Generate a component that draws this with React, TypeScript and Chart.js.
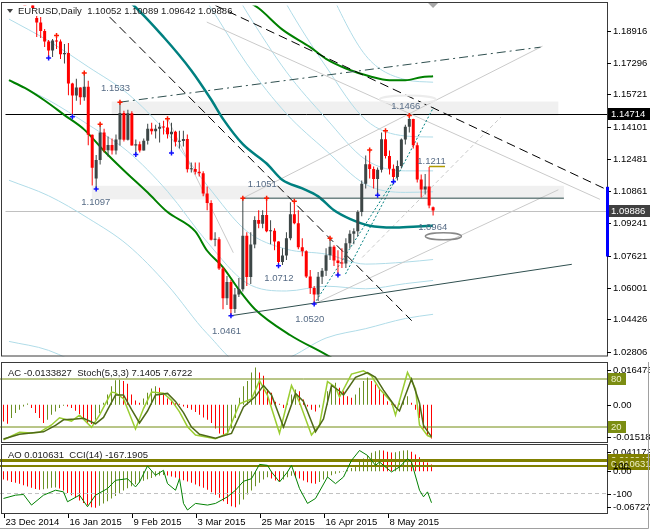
import React, { useEffect, useRef } from 'react';
import { Chart, registerables } from 'chart.js';

Chart.register(...registerables);

// EURUSD daily, bar 0 = 23 Dec 2014, bar 107 = 25 May 2015
const opens = [
  1.2230, 1.2174, 1.2195, 1.2187, 1.2160, 1.2157, 1.2100, 1.1955, 1.1933, 1.1890,
  1.1838, 1.1792, 1.1843, 1.1838, 1.1774, 1.1780, 1.1627, 1.1566, 1.1607, 1.1557,
  1.1610, 1.1369, 1.1150, 1.1243, 1.1381, 1.1291, 1.1318, 1.1290, 1.1345, 1.1478,
  1.1344, 1.1477, 1.1315, 1.1322, 1.1290, 1.1339, 1.1399, 1.1387, 1.1400, 1.1409,
  1.1406, 1.1372, 1.1384, 1.1334, 1.1338, 1.1348, 1.1196, 1.1197, 1.1184, 1.1176,
  1.1074, 1.1027, 1.0842, 1.0845, 1.0698, 1.0549, 1.0630, 1.0495, 1.0567, 1.0594,
  1.0862, 1.0655, 1.0818, 1.0941, 1.0923, 1.0966, 1.0885, 1.0888, 1.0833, 1.0731,
  1.0763, 1.0850, 1.0970, 1.0925, 1.0804, 1.0784, 1.0658, 1.0600, 1.0568, 1.0657,
  1.0687, 1.0765, 1.0807, 1.0738, 1.0725, 1.0723, 1.0825, 1.0872, 1.0885, 1.0982,
  1.1123, 1.1221, 1.1197, 1.1147, 1.1194, 1.1347, 1.1263, 1.1199, 1.1157, 1.1212,
  1.1345, 1.1409, 1.1448, 1.1316, 1.1145, 1.1095, 1.1110, 1.10052,
];
const highs = [
  1.2245, 1.2220, 1.2230, 1.2220, 1.2190, 1.2170, 1.2110, 1.1966, 1.1960, 1.1900,
  1.1845, 1.1850, 1.1867, 1.1847, 1.1825, 1.1830, 1.1630, 1.1650, 1.1608, 1.1679,
  1.1640, 1.1370, 1.1268, 1.1422, 1.1400, 1.1360, 1.1350, 1.1370, 1.1533, 1.1490,
  1.1495, 1.1487, 1.1345, 1.1335, 1.1350, 1.1425, 1.1430, 1.1420, 1.1430, 1.1440,
  1.1450, 1.1430, 1.1390, 1.1390, 1.1390, 1.1370, 1.1230, 1.1230, 1.1230, 1.1186,
  1.1110, 1.1040, 1.0880, 1.0855, 1.0705, 1.0660, 1.0640, 1.0600, 1.0650, 1.1051,
  1.0880, 1.0880, 1.0960, 1.0990, 1.0990, 1.1051, 1.0940, 1.0900, 1.0835, 1.0800,
  1.0880, 1.1030, 1.1036, 1.0990, 1.0850, 1.0790, 1.0690, 1.0610, 1.0680, 1.0700,
  1.0800, 1.0850, 1.0815, 1.0790, 1.0800, 1.0850, 1.0890, 1.0900, 1.0990, 1.1140,
  1.1265, 1.1293, 1.1210, 1.1205, 1.1380, 1.1390, 1.1290, 1.1220, 1.1240, 1.1350,
  1.1420, 1.1466, 1.1450, 1.1330, 1.1170, 1.1172, 1.1207, 1.10089,
];
const lows = [
  1.2165, 1.2165, 1.2180, 1.2155, 1.2140, 1.2100, 1.2000, 1.1860, 1.1855, 1.1810,
  1.1755, 1.1760, 1.1800, 1.1750, 1.1727, 1.1567, 1.1460, 1.1540, 1.1520, 1.1540,
  1.1316, 1.1114, 1.1097, 1.1220, 1.1280, 1.1260, 1.1270, 1.1270, 1.1315, 1.1335,
  1.1340, 1.1315, 1.1270, 1.1280, 1.1290, 1.1320, 1.1370, 1.1350, 1.1330, 1.1370,
  1.1350, 1.1278, 1.1310, 1.1300, 1.1310, 1.1180, 1.1180, 1.1170, 1.1160, 1.1060,
  1.0990, 1.0838, 1.0810, 1.0690, 1.0494, 1.0515, 1.0461, 1.0475, 1.0555, 1.0583,
  1.0610, 1.0620, 1.0800, 1.0900, 1.0900, 1.0880, 1.0820, 1.0790, 1.0712, 1.0715,
  1.0740, 1.0840, 1.0920, 1.0795, 1.0760, 1.0650, 1.0570, 1.0520, 1.0535, 1.0620,
  1.0660, 1.0740, 1.0710, 1.0665, 1.0700, 1.0700, 1.0800, 1.0820, 1.0860, 1.0960,
  1.1100, 1.1150, 1.1100, 1.1066, 1.1180, 1.1250, 1.1170, 1.1134, 1.1140, 1.1200,
  1.1320, 1.1380, 1.1300, 1.1130, 1.1054, 1.1070, 1.1000, 1.09642,
];
const closes = [
  1.2174, 1.2195, 1.2187, 1.2160, 1.2157, 1.2100, 1.2005, 1.1933, 1.1890, 1.1838,
  1.1792, 1.1843, 1.1838, 1.1774, 1.1780, 1.1627, 1.1566, 1.1607, 1.1557, 1.1610,
  1.1369, 1.1204, 1.1243, 1.1381, 1.1291, 1.1318, 1.1290, 1.1345, 1.1478, 1.1344,
  1.1477, 1.1315, 1.1322, 1.1290, 1.1339, 1.1399, 1.1387, 1.1400, 1.1409, 1.1406,
  1.1372, 1.1384, 1.1334, 1.1338, 1.1348, 1.1196, 1.1197, 1.1184, 1.1176, 1.1074,
  1.1027, 1.0842, 1.0845, 1.0698, 1.0549, 1.0630, 1.0495, 1.0567, 1.0594, 1.0862,
  1.0655, 1.0818, 1.0941, 1.0923, 1.0966, 1.0885, 1.0888, 1.0833, 1.0731, 1.0763,
  1.0850, 1.0970, 1.0925, 1.0804, 1.0784, 1.0658, 1.0600, 1.0568, 1.0657, 1.0687,
  1.0765, 1.0807, 1.0738, 1.0725, 1.0723, 1.0825, 1.0872, 1.0885, 1.0982, 1.1123,
  1.1221, 1.1197, 1.1147, 1.1194, 1.1347, 1.1263, 1.1199, 1.1157, 1.1212, 1.1345,
  1.1409, 1.1448, 1.1316, 1.1145, 1.1095, 1.1110, 1.1014, 1.09886,
];

const dateTickBars = [0, 16, 32, 48, 64, 80, 96];
const dateTickLabels = ['23 Dec 2014', '16 Jan 2015', '9 Feb 2015', '3 Mar 2015', '25 Mar 2015', '16 Apr 2015', '8 May 2015'];
const priceTicks = [1.18916, 1.17296, 1.15721, 1.14101, 1.12481, 1.10861, 1.09241, 1.07621, 1.06001, 1.04426, 1.02806];

// fractal bars
const fractalHighBars = [12, 19, 23, 28, 40, 59, 65, 72, 81, 91, 95, 101];
const fractalLowBars = [10, 16, 22, 32, 41, 56, 68, 77, 83, 93, 97];

// moving average (teal) and its bands
const maBars = [20, 30, 39, 46, 51, 54, 59, 65, 69, 74, 78, 82, 86, 91, 97, 102, 107];
const maValues = [1.2180, 1.2045, 1.1860, 1.1692, 1.1546, 1.1449, 1.1322, 1.1225, 1.1142, 1.1100, 1.1060, 1.0990, 1.0947, 1.0913, 1.0904, 1.0908, 1.0913];
const bandBars = [0, 10, 20, 30, 40, 50, 60, 70, 80, 90, 100, 107];
const bandUpper1 = [1.2950, 1.2800, 1.2650, 1.2515, 1.2315, 1.2035, 1.1725, 1.1475, 1.1290, 1.1120, 1.1080, 1.1083];
const bandUpper2 = [1.3259, 1.3097, 1.2940, 1.2805, 1.2605, 1.2319, 1.1985, 1.1685, 1.1451, 1.1244, 1.1188, 1.1188];
const bandUpper3 = [1.3759, 1.3577, 1.3410, 1.3275, 1.3075, 1.2779, 1.2405, 1.2025, 1.1711, 1.1444, 1.1363, 1.1358];
const bandLower1 = [1.1950, 1.1840, 1.1710, 1.1575, 1.1375, 1.1115, 1.0885, 1.0795, 1.0770, 1.0720, 1.0730, 1.0743];
const bandLower2 = [1.1641, 1.1543, 1.1420, 1.1285, 1.1085, 1.0831, 1.0625, 1.0585, 1.0609, 1.0596, 1.0622, 1.0638];
const bandLower3 = [1.1141, 1.1063, 1.0950, 1.0815, 1.0615, 1.0371, 1.0205, 1.0245, 1.0349, 1.0396, 1.0447, 1.0468];
const bandUpper4Bars = [60, 70, 80, 90, 100, 107];
const bandUpper4 = [1.3084, 1.2575, 1.2131, 1.1767, 1.1646, 1.1633];
const bandLower4Bars = [0, 10, 20, 30];
const bandLower4 = [1.0332, 1.0287, 1.0189, 1.0054];

// green envelope lines
const greenLowBars = [0, 4, 9, 14, 19, 24, 29, 35, 40, 47, 50, 54, 58, 62, 71, 80, 85];
const greenLowValues = [1.1643, 1.1604, 1.1541, 1.1468, 1.1395, 1.1288, 1.1190, 1.1079, 1.0981, 1.0884, 1.0787, 1.0704, 1.0592, 1.0495, 1.0363, 1.0266, 1.0208];
const greenHighBars = [60, 63, 69, 76, 80, 85, 91, 96, 100, 104, 107];
const greenHighValues = [1.2042, 1.2004, 1.1897, 1.1809, 1.1750, 1.1702, 1.1663, 1.1643, 1.1643, 1.1658, 1.1663];

// drawn objects
const fallLine1Bars = [25.4, 101.6];
const fallLine1Prices = [1.1960, 1.0436];
const fallLine2Bars = [52.1, 150.9];
const fallLine2Prices = [1.2018, 1.1093];
const dashDotBars = [28, 134.1];
const dashDotPrices = [1.1533, 1.1809];
const supportBars = [56, 142];
const supportPrices = [1.0461, 1.0719];
const resistBars = [59, 140];
const resistPrices = [1.1051, 1.1051];
const dotted1Bars = [77, 97.1];
const dotted1Prices = [1.0520, 1.1142];
const dotted2Bars = [84.9, 107.1];
const dotted2Prices = [1.0670, 1.1507];
const gray1Bars = [49.9, 149.1];
const gray1Prices = [1.1935, 1.1045];
const gray2Bars = [59, 134.6];
const gray2Prices = [1.1051, 1.1814];
const gray3Bars = [77, 138.6];
const gray3Prices = [1.0520, 1.1093];
const gray4Bars = [40, 56.6];
const gray4Prices = [1.1450, 1.0777];
const gray5Bars = [89.1, 124.1];
const gray5Prices = [1.0753, 1.1458];
const markBars = [106, 110];
const markPrices = [1.1210, 1.1210];

const zoneStartBars = [25.9, 20.9];
const zoneEndBars = [138.6, 140];
const zoneTopPrices = [1.1536, 1.1113];
const zoneBottomPrices = [1.1466, 1.1045];
const levelPrice = 1.14714;
const bidPrice = 1.09886;
const rangeTop = 1.1108;
const rangeBottom = 1.0758;

const labelTexts = ['1.1533', '1.1097', '1.1051', '1.0712', '1.0520', '1.0461', '1.1466', '1.1211', '1.0964'];
const labelBars = [26.9, 21.9, 63.9, 68.1, 75.9, 54.9, 100.1, 106.6, 106.9];
const labelPrices = [1.1604, 1.1030, 1.1118, 1.0650, 1.0441, 1.0383, 1.1512, 1.1235, 1.0904];

// AC histogram, Stochastic(5,3,3)
const acValues = [
  -0.0067, -0.0076, -0.0053, -0.0033, -0.0020, -0.0007, 0.0004, -0.0013, -0.0033, -0.0053,
  -0.0073, -0.0060, -0.0040, -0.0027, -0.0013, -0.0004, -0.0007, -0.0013, -0.0024, -0.0037,
  -0.0053, -0.0073, -0.0077, -0.0060, -0.0033, 0.0007, 0.0040, 0.0073, 0.0096, 0.0098,
  0.0094, 0.0083, 0.0040, 0.0016, 0.0007, 0.0024, 0.0047, 0.0064, 0.0073, 0.0067,
  0.0040, 0.0024, 0.0013, 0.0005, 0.0003, -0.0007, -0.0013, -0.0020, -0.0029, -0.0040,
  -0.0051, -0.0060, -0.0073, -0.0094, -0.0114, -0.0123, -0.0114, -0.0094, -0.0053, 0.0027,
  0.0073, 0.0094, 0.0127, 0.0147, 0.0127, 0.0114, 0.0060, 0.0047, 0.0011, 0.0003,
  -0.0013, 0.0013, 0.0040, 0.0060, 0.0053, 0.0020, -0.0007, -0.0020, -0.0027, -0.0011,
  0.0013, 0.0053, 0.0080, 0.0087, 0.0067, 0.0053, 0.0033, 0.0027, 0.0040, 0.0067,
  0.0094, 0.0107, 0.0094, 0.0080, 0.0067, 0.0047, 0.0013, 0.0004, -0.0003, 0.0007,
  0.0020, 0.0033, 0.0007, -0.0020, -0.0053, -0.0094, -0.0120, -0.0134,
];
const stochBars = [0, 4, 7, 9, 12, 14, 17, 19, 22, 24, 27, 28, 30, 33, 35, 37, 40, 42, 44, 46, 48, 53, 56, 59, 62, 64, 66, 69, 72, 74, 77, 79, 81, 83, 84, 87, 90, 92, 94, 97, 98, 101, 103, 104, 106, 107];
const stochMain = [4, 13.4, 12.6, 13.4, 22.5, 31.5, 27.4, 34.8, 19.6, 34.8, 63.6, 62.7, 55.3, 17.5, 43, 63.6, 62.3, 53.3, 38.9, 20.4, 10, 5.2, 12.2, 49, 55, 78, 59.5, 12.2, 71.8, 51, 10, 22.5, 76.7, 69.7, 57.4, 86.2, 90.3, 84, 67.7, 51.2, 34.8, 88.2, 67.7, 22.5, 9.3, 7.1];
const signalBars = [0, 4, 8, 10, 13, 15, 18, 20, 23, 25, 28, 30, 32, 34, 36, 38, 41, 43, 45, 47, 49, 53, 57, 60, 63, 65, 67, 70, 73, 75, 78, 80, 82, 84, 85, 88, 91, 93, 95, 98, 99, 102, 104, 105, 107];
const stochSignal = [5, 11, 13, 14, 22, 29, 30, 31, 24, 32, 60, 60, 42, 25, 40, 60, 62, 52, 38, 20, 11, 6, 12, 45, 58, 72, 60, 20, 62, 52, 14, 30, 72, 65, 60, 82, 88, 82, 66, 45, 40, 80, 50, 22, 7.7];

// AO histogram, CCI(14)
const aoValues = [
  -0.0131, -0.0147, -0.0168, -0.0183, -0.0199, -0.0220, -0.0241, -0.0262, -0.0278, -0.0293,
  -0.0283, -0.0272, -0.0262, -0.0257, -0.0272, -0.0304, -0.0341, -0.0377, -0.0419, -0.0461,
  -0.0498, -0.0534, -0.0566, -0.0576, -0.0545, -0.0508, -0.0472, -0.0430, -0.0388, -0.0346,
  -0.0304, -0.0267, -0.0236, -0.0204, -0.0178, -0.0152, -0.0126, -0.0105, -0.0084, -0.0068,
  -0.0058, -0.0068, -0.0084, -0.0100, -0.0121, -0.0141, -0.0162, -0.0183, -0.0210, -0.0236,
  -0.0262, -0.0293, -0.0330, -0.0372, -0.0419, -0.0472, -0.0514, -0.0550, -0.0566, -0.0524,
  -0.0445, -0.0367, -0.0304, -0.0236, -0.0183, -0.0131, -0.0094, -0.0115, -0.0147, -0.0157,
  -0.0131, -0.0094, -0.0073, -0.0094, -0.0115, -0.0147, -0.0173, -0.0189, -0.0199, -0.0168,
  -0.0131, -0.0094, -0.0063, -0.0042, -0.0026, -0.0010, 0.0016, 0.0052, 0.0094, 0.0147,
  0.0199, 0.0246, 0.0288, 0.0314, 0.0330, 0.0325, 0.0304, 0.0293, 0.0299, 0.0314,
  0.0325, 0.0330, 0.0304, 0.0262, 0.0220, 0.0173, 0.0136, 0.0106,
];
const cciBars = [0, 3, 5, 7, 10, 13, 15, 16, 19, 21, 23, 26, 28, 31, 33, 34, 36, 38, 40, 41, 43, 44, 45, 46, 48, 51, 53, 56, 58, 60, 62, 64, 66, 67, 69, 71, 72, 74, 76, 78, 81, 83, 85, 87, 89, 91, 93, 94, 97, 99, 101, 102, 104, 105, 106, 107];
const cciValues = [-136, -112, -107, -184, -112, -76, -88, -160, -112, -196, -112, -64, -4, 8, -52, -16, 100, 33, 69, -28, -76, 8, -172, -220, -172, -184, -172, -124, -76, -11, 8, 112, 105, 57, -16, 57, 105, -64, -172, -136, 20, -28, 20, 141, 213, 177, 105, 129, 57, 93, 153, 129, -76, -124, -88, -167];
const aoLevel = 0.01694;

const FONT = '9.5px "Liberation Sans", Arial, sans-serif';
const BULL = '#3d4646';
const BEAR = '#ff0000';
const HIST_UP = '#6b8e23';
const X_MIN = -0.875;
const X_MAX = 150.875;
const AXIS_W = 43;

const xy = (xs: number[], ys: number[]) => xs.map((x, i) => ({ x, y: ys[i] }));

const lineSet = (data: any[], color: string, width: number, extra: any = {}) => ({
  type: 'line',
  data,
  borderColor: color,
  borderWidth: width,
  pointRadius: 0,
  fill: false,
  tension: 0,
  order: 5,
  ...extra,
});

const histColors = (vals: number[]) => vals.map((v, i) => (i > 0 && v > vals[i - 1] ? HIST_UP : BEAR));

const xScale = { type: 'linear', min: X_MIN, max: X_MAX, display: false, offset: false, bounds: 'data' };
const yScale = (min: number, max: number) => ({ type: 'linear', min, max, display: false, bounds: 'data', beginAtZero: false });

const baseOptions = (top: number, bottom: number, scales: any) => ({
  responsive: false,
  maintainAspectRatio: false,
  animation: false,
  events: [],
  layout: { padding: { left: 0, right: AXIS_W, top, bottom } },
  plugins: { legend: { display: false }, tooltip: { enabled: false } },
  scales,
});

function axisText(ctx: CanvasRenderingContext2D, text: string, x: number, y: number, color = '#000') {
  ctx.fillStyle = color;
  ctx.fillText(text, x, y);
}

function axisBox(ctx: CanvasRenderingContext2D, text: string, x: number, y: number, w: number, bg: string, fg: string) {
  ctx.fillStyle = bg;
  ctx.fillRect(x, Math.round(y) - 6, w, 12);
  ctx.fillStyle = fg;
  ctx.fillText(text, x + 3, Math.round(y));
}

function tick(ctx: CanvasRenderingContext2D, x: number, y: number) {
  const py = Math.round(y) + 0.5;
  ctx.beginPath();
  ctx.moveTo(x, py);
  ctx.lineTo(x + 4, py);
  ctx.stroke();
}

const pricePlugin = {
  id: 'pricePanel',
  beforeDatasetsDraw(chart: any) {
    const { ctx, chartArea: a } = chart;
    const xs = chart.scales.x;
    const ys = chart.scales.y;
    ctx.save();
    ctx.fillStyle = '#f0f0f0';
    zoneStartBars.forEach((b, k) => {
      const x0 = xs.getPixelForValue(b);
      const x1 = xs.getPixelForValue(zoneEndBars[k]);
      const y0 = ys.getPixelForValue(zoneTopPrices[k]);
      const y1 = ys.getPixelForValue(zoneBottomPrices[k]);
      ctx.fillRect(x0, y0, x1 - x0, y1 - y0);
    });
    ctx.lineWidth = 1;
    const by = Math.round(ys.getPixelForValue(bidPrice)) + 0.5;
    ctx.strokeStyle = '#c0c0c0';
    ctx.beginPath();
    ctx.moveTo(a.left, by);
    ctx.lineTo(a.right, by);
    ctx.stroke();
    const hy = Math.round(ys.getPixelForValue(levelPrice)) + 0.5;
    ctx.strokeStyle = '#000';
    ctx.beginPath();
    ctx.moveTo(a.left, hy);
    ctx.lineTo(a.right, hy);
    ctx.stroke();
    ctx.restore();
  },
  afterDatasetsDraw(chart: any) {
    const { ctx } = chart;
    const xs = chart.scales.x;
    const ys = chart.scales.y;
    ctx.save();
    // ellipses
    ctx.strokeStyle = '#888';
    ctx.lineWidth = 1.5;
    ctx.beginPath();
    ctx.ellipse(xs.getPixelForValue(109.6), ys.getPixelForValue(1.086), 18, 3.5, 0, 0, Math.PI * 2);
    ctx.stroke();
    ctx.strokeStyle = '#ececec';
    ctx.lineWidth = 2;
    ctx.beginPath();
    ctx.ellipse(xs.getPixelForValue(100.6), ys.getPixelForValue(1.1546), 28, 4, 0, 0, Math.PI * 2);
    ctx.stroke();
    // price labels
    ctx.font = FONT;
    ctx.textAlign = 'center';
    ctx.textBaseline = 'middle';
    ctx.fillStyle = '#566b85';
    labelTexts.forEach((t, k) => {
      ctx.fillText(t, xs.getPixelForValue(labelBars[k]), ys.getPixelForValue(labelPrices[k]));
    });
    ctx.restore();
  },
  afterDraw(chart: any) {
    const { ctx, chartArea: a } = chart;
    const xs = chart.scales.x;
    const ys = chart.scales.y;
    ctx.save();
    ctx.strokeStyle = '#3a3a3a';
    ctx.lineWidth = 1;
    ctx.strokeRect(1.5, 2.5, a.right - 1, a.bottom - 3);
    ctx.font = FONT;
    ctx.textAlign = 'left';
    ctx.textBaseline = 'middle';
    ctx.strokeStyle = '#000';
    priceTicks.forEach((p) => {
      const py = ys.getPixelForValue(p);
      tick(ctx, a.right, py);
      axisText(ctx, p.toFixed(5), a.right + 6, Math.round(py));
    });
    axisBox(ctx, levelPrice.toFixed(5), a.right + 1, ys.getPixelForValue(levelPrice), 42, '#000', '#fff');
    axisBox(ctx, bidPrice.toFixed(5), a.right + 1, ys.getPixelForValue(bidPrice), 42, '#404040', '#fff');
    // daily range bar
    const r0 = ys.getPixelForValue(rangeTop);
    const r1 = ys.getPixelForValue(rangeBottom);
    ctx.fillStyle = '#0000ff';
    ctx.fillRect(a.right - 1, r0, 3, r1 - r0);
    // chart shift marker
    const sx = xs.getPixelForValue(107);
    ctx.fillStyle = '#a8a8a8';
    ctx.beginPath();
    ctx.moveTo(sx - 5, 3);
    ctx.lineTo(sx + 5, 3);
    ctx.lineTo(sx, 8);
    ctx.closePath();
    ctx.fill();
    // header
    ctx.fillStyle = '#404040';
    ctx.beginPath();
    ctx.moveTo(7, 9);
    ctx.lineTo(13, 9);
    ctx.lineTo(10, 13);
    ctx.closePath();
    ctx.fill();
    ctx.fillStyle = '#202020';
    ctx.fillText('EURUSD,Daily  1.10052 1.10089 1.09642 1.09886', 18, 11);
    ctx.restore();
  },
};

const acPlugin = {
  id: 'acPanel',
  afterDraw(chart: any) {
    const { ctx, chartArea: a } = chart;
    const ac = chart.scales.yac;
    const st = chart.scales.yst;
    ctx.save();
    ctx.strokeStyle = '#3a3a3a';
    ctx.lineWidth = 1;
    ctx.strokeRect(1.5, a.top - 0.5, a.right - 1, a.bottom - a.top);
    ctx.font = FONT;
    ctx.textAlign = 'left';
    ctx.textBaseline = 'middle';
    ctx.strokeStyle = '#000';
    tick(ctx, a.right, a.top + 7);
    axisText(ctx, '0.016473', a.right + 6, a.top + 7);
    tick(ctx, a.right, ac.getPixelForValue(0));
    axisText(ctx, '0.00', a.right + 6, Math.round(ac.getPixelForValue(0)));
    tick(ctx, a.right, a.bottom - 6);
    axisText(ctx, '-0.015182', a.right + 6, a.bottom - 6);
    axisBox(ctx, '80', a.right + 1, st.getPixelForValue(80), 18, '#7b8d12', '#eef0c8');
    axisBox(ctx, '20', a.right + 1, st.getPixelForValue(20), 18, '#7b8d12', '#eef0c8');
    ctx.fillStyle = '#202020';
    ctx.fillText('AC -0.0133827  Stoch(5,3,3) 7.1405 7.6722', 8, a.top + 10);
    ctx.strokeStyle = '#a0a0a0';
    ctx.beginPath();
    ctx.moveTo(648.5, 0);
    ctx.lineTo(648.5, chart.height);
    ctx.stroke();
    ctx.restore();
  },
};

const aoPlugin = {
  id: 'aoPanel',
  afterDraw(chart: any) {
    const { ctx, chartArea: a } = chart;
    const xs = chart.scales.x;
    const ao = chart.scales.yao;
    const cci = chart.scales.ycci;
    ctx.save();
    ctx.strokeStyle = '#3a3a3a';
    ctx.lineWidth = 1;
    ctx.strokeRect(1.5, a.top - 0.5, a.right - 1, a.bottom - a.top);
    ctx.font = FONT;
    ctx.textAlign = 'left';
    ctx.textBaseline = 'middle';
    ctx.strokeStyle = '#000';
    tick(ctx, a.right, a.top + 7);
    axisText(ctx, '0.041172', a.right + 6, a.top + 7);
    axisBox(ctx, '0.016940', a.right + 1, ao.getPixelForValue(aoLevel), 42, '#808000', '#eef0c8');
    axisBox(ctx, '0.010631', a.right + 1, ao.getPixelForValue(0.010631), 42, '#808000', '#eef0c8');
    axisText(ctx, '100', a.right + 6, Math.round(cci.getPixelForValue(100)));
    tick(ctx, a.right, ao.getPixelForValue(0));
    axisText(ctx, '0.00', a.right + 6, Math.round(ao.getPixelForValue(0)));
    tick(ctx, a.right, cci.getPixelForValue(-100));
    axisText(ctx, '-100', a.right + 6, Math.round(cci.getPixelForValue(-100)));
    tick(ctx, a.right, a.bottom - 7);
    axisText(ctx, '-0.06727', a.right + 6, a.bottom - 7);
    ctx.fillStyle = '#202020';
    ctx.fillText('AO 0.010631  CCI(14) -167.1905', 8, a.top + 10);
    // date axis
    dateTickBars.forEach((b, k) => {
      const px = Math.round(xs.getPixelForValue(b)) + 0.5;
      ctx.beginPath();
      ctx.moveTo(px, a.bottom);
      ctx.lineTo(px, a.bottom + 4);
      ctx.stroke();
      axisText(ctx, dateTickLabels[k], px + 1, a.bottom + 8);
    });
    ctx.strokeStyle = '#a0a0a0';
    ctx.beginPath();
    ctx.moveTo(648.5, 0);
    ctx.lineTo(648.5, chart.height - 1.5);
    ctx.lineTo(0, chart.height - 1.5);
    ctx.stroke();
    ctx.restore();
  },
};

export default function App() {
  const priceRef = useRef<HTMLCanvasElement>(null);
  const acRef = useRef<HTMLCanvasElement>(null);
  const aoRef = useRef<HTMLCanvasElement>(null);

  useEffect(() => {
    document.body.style.margin = '0';
    if (!priceRef.current || !acRef.current || !aoRef.current) return;

    const idx = opens.map((_, i) => i);
    const candleColors = idx.map((i) => (closes[i] >= opens[i] ? BULL : BEAR));
    const wicks = idx.map((i) => ({ x: i, y: [lows[i], highs[i]] }));
    const bodies = idx.map((i) => ({ x: i, y: [opens[i], closes[i]] }));
    const barCommon = {
      type: 'bar',
      grouped: false,
      barPercentage: 1,
      categoryPercentage: 1,
      borderWidth: 0,
      inflateAmount: 0,
    };
    const band = (bars: number[], vals: number[]) =>
      lineSet(xy(bars, vals), '#b0dce8', 1, { cubicInterpolationMode: 'monotone', order: 7 });

    const priceChart = new Chart(priceRef.current, {
      type: 'bar',
      data: {
        datasets: [
          { type: 'line', data: xy(fractalHighBars, fractalHighBars.map((b) => highs[b])), showLine: false, pointStyle: 'cross', pointRadius: 2.5, borderColor: '#ff1a00', borderWidth: 1.5, order: 0 },
          { type: 'line', data: xy(fractalLowBars, fractalLowBars.map((b) => lows[b])), showLine: false, pointStyle: 'cross', pointRadius: 2.5, borderColor: '#1010ff', borderWidth: 1.5, order: 0 },
          { ...barCommon, data: bodies, backgroundColor: candleColors, maxBarThickness: 3, minBarLength: 1, order: 1 },
          { ...barCommon, data: wicks, backgroundColor: candleColors, maxBarThickness: 1, order: 2 },
          lineSet(xy(fallLine1Bars, fallLine1Prices), '#000', 1, { borderDash: [9, 5], order: 3 }),
          lineSet(xy(fallLine2Bars, fallLine2Prices), '#000', 1, { borderDash: [9, 5], order: 3 }),
          lineSet(xy(dashDotBars, dashDotPrices), '#2f4f4f', 1, { borderDash: [9, 4, 2, 4], order: 3 }),
          lineSet(xy(supportBars, supportPrices), '#2f4f4f', 1, { order: 3 }),
          lineSet(xy(resistBars, resistPrices), '#2f4f4f', 1, { order: 3 }),
          lineSet(xy(dotted1Bars, dotted1Prices), '#008080', 1, { borderDash: [2, 2], order: 3 }),
          lineSet(xy(dotted2Bars, dotted2Prices), '#008080', 1, { borderDash: [2, 2], order: 3 }),
          lineSet(xy(markBars, markPrices), '#b09a00', 1.5, { order: 3 }),
          lineSet(xy(gray1Bars, gray1Prices), '#cacaca', 1, { order: 6 }),
          lineSet(xy(gray2Bars, gray2Prices), '#cacaca', 1, { order: 6 }),
          lineSet(xy(gray3Bars, gray3Prices), '#cacaca', 1, { order: 6 }),
          lineSet(xy(gray4Bars, gray4Prices), '#cacaca', 1, { order: 6 }),
          lineSet(xy(gray5Bars, gray5Prices), '#cacaca', 1, { borderDash: [4, 3], order: 6 }),
          lineSet(xy(maBars, maValues), '#008080', 2.5, { cubicInterpolationMode: 'monotone', order: 4 }),
          lineSet(xy(greenLowBars, greenLowValues), '#008000', 2, { cubicInterpolationMode: 'monotone', order: 4 }),
          lineSet(xy(greenHighBars, greenHighValues), '#008000', 2, { cubicInterpolationMode: 'monotone', order: 4 }),
          band(bandBars, bandUpper1),
          band(bandBars, bandUpper2),
          band(bandBars, bandUpper3),
          band(bandUpper4Bars, bandUpper4),
          band(bandBars, bandLower1),
          band(bandBars, bandLower2),
          band(bandBars, bandLower3),
          band(bandLower4Bars, bandLower4),
        ],
      },
      options: baseOptions(0, 0, { x: xScale, y: yScale(1.02562, 1.20181) }),
      plugins: [pricePlugin],
    } as any);

    const acChart = new Chart(acRef.current, {
      type: 'bar',
      data: {
        datasets: [
          lineSet(xy(stochBars, stochMain), '#9acd32', 1.5, { yAxisID: 'yst', order: 1 }),
          lineSet(xy(signalBars, stochSignal), '#4f6a18', 1.5, { yAxisID: 'yst', order: 0 }),
          lineSet(xy([X_MIN, X_MAX], [80, 80]), '#738c10', 1, { yAxisID: 'yst', order: 3 }),
          lineSet(xy([X_MIN, X_MAX], [20, 20]), '#738c10', 1, { yAxisID: 'yst', order: 3 }),
          { ...barCommon, data: xy(idx, acValues), backgroundColor: histColors(acValues), maxBarThickness: 1, yAxisID: 'yac', order: 4 },
        ],
      },
      options: baseOptions(1, 1, { x: xScale, yac: yScale(-0.015182, 0.016473), yst: yScale(0, 100) }),
      plugins: [acPlugin],
    } as any);

    const aoChart = new Chart(aoRef.current, {
      type: 'bar',
      data: {
        datasets: [
          lineSet(xy(cciBars, cciValues), '#008000', 1, { yAxisID: 'ycci', order: 0 }),
          lineSet(xy([X_MIN, X_MAX], [aoLevel, aoLevel]), '#808000', 3, { yAxisID: 'yao', order: 2 }),
          lineSet(xy([X_MIN, X_MAX], [100, 100]), '#808000', 2, { yAxisID: 'ycci', order: 2 }),
          lineSet(xy([X_MIN, X_MAX], [100, 100]), '#c0c0c0', 1, { yAxisID: 'ycci', borderDash: [4, 3], order: 3 }),
          lineSet(xy([X_MIN, X_MAX], [-100, -100]), '#c0c0c0', 1, { yAxisID: 'ycci', borderDash: [4, 3], order: 3 }),
          { ...barCommon, data: xy(idx, aoValues), backgroundColor: histColors(aoValues), maxBarThickness: 1, yAxisID: 'yao', order: 4 },
        ],
      },
      options: baseOptions(1, 16, { x: xScale, yao: yScale(-0.06727, 0.041172), ycci: yScale(-249, 253) }),
      plugins: [aoPlugin],
    } as any);

    return () => {
      priceChart.destroy();
      acChart.destroy();
      aoChart.destroy();
    };
  }, []);

  return (
    <div style={{ position: 'relative', width: 650, height: 530, background: '#fff', overflow: 'hidden' }}>
      <canvas ref={priceRef} width={650} height={362} style={{ position: 'absolute', left: 0, top: 0 }} />
      <canvas ref={acRef} width={650} height={82} style={{ position: 'absolute', left: 0, top: 362 }} />
      <canvas ref={aoRef} width={650} height={86} style={{ position: 'absolute', left: 0, top: 444 }} />
    </div>
  );
}
